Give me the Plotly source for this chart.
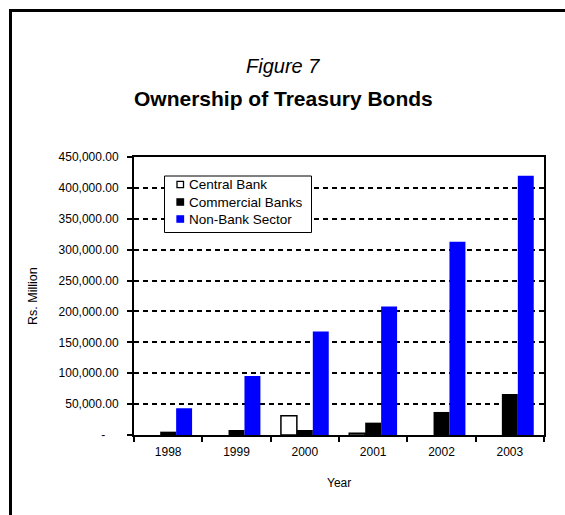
import plotly.graph_objects as go

# Holdings of Treasury Bonds by owner (Rs. Million)
years = ["1998", "1999", "2000", "2001", "2002", "2003"]
central_bank = [None, None, 31300, 2800, None, None]
commercial_banks = [5400, 8100, 8100, 20000, 37300, 66400]
non_bank_sector = [43300, 95600, 167400, 207900, 312700, 419600]

y_tick_vals = [0, 50000, 100000, 150000, 200000, 250000, 300000, 350000, 400000, 450000]
y_tick_text = ["-\u00a0\u00a0\u00a0\u00a0"] + [f"{v:,.2f}" for v in y_tick_vals[1:]]

series_names = ["Central Bank", "Commercial Banks", "Non-Bank Sector"]

W, H = 565, 515
ML, MR, MT, MB = 134, 21, 157, 80
PW, PH = W - ML - MR, H - MT - MB


def px_x(x):
    """Pixel column -> paper x."""
    return (x - ML) / PW


def px_y(y):
    """Pixel row -> paper y."""
    return (H - MB - y) / PH


FONT = "Liberation Sans, Arial, sans-serif"

fig = go.Figure()
fig.add_trace(go.Bar(x=years, y=central_bank, name=series_names[0],
                     marker=dict(color="white", line=dict(color="black", width=1.5))))
fig.add_trace(go.Bar(x=years, y=commercial_banks, name=series_names[1],
                     marker=dict(color="black", line=dict(width=0))))
fig.add_trace(go.Bar(x=years, y=non_bank_sector, name=series_names[2],
                     marker=dict(color="#0000FF", line=dict(width=0))))

shapes = []
annotations = []

# Outer frame (top and left edges)
shapes.append(dict(type="line", xref="paper", yref="paper",
                   x0=px_x(9), x1=px_x(570), y0=px_y(10.5), y1=px_y(10.5),
                   line=dict(color="black", width=3)))
shapes.append(dict(type="line", xref="paper", yref="paper",
                   x0=px_x(10.5), x1=px_x(10.5), y0=px_y(9), y1=px_y(520),
                   line=dict(color="black", width=3)))

# Legend box
lx0, ly0, lx1, ly1 = 164.5, 176, 311.5, 232.5
shapes.append(dict(type="rect", xref="paper", yref="paper",
                   x0=px_x(lx0), x1=px_x(lx1), y0=px_y(ly1), y1=px_y(ly0),
                   fillcolor="white", line=dict(color="black", width=1), layer="above"))
legend_rows = [184.5, 202, 219]
legend_fill = ["white", "black", "#0000FF"]
legend_line = ["black", "black", "#0000FF"]
for name, cy, fc, lc in zip(series_names, legend_rows, legend_fill, legend_line):
    shapes.append(dict(type="rect", xref="paper", yref="paper",
                       x0=px_x(177), x1=px_x(183.5), y0=px_y(cy + 3.2), y1=px_y(cy - 3.2),
                       fillcolor=fc, line=dict(color=lc, width=1.3), layer="above"))
    annotations.append(dict(text=name, xref="paper", yref="paper",
                            x=px_x(186.5), y=px_y(cy), xanchor="left", yanchor="middle",
                            showarrow=False, font=dict(family=FONT, size=13.5, color="black")))

# Titles
annotations.append(dict(text="<i>Figure 7</i>", xref="paper", yref="paper",
                        x=px_x(283), y=px_y(66), xanchor="center", yanchor="middle",
                        showarrow=False, font=dict(family=FONT, size=20, color="black")))
annotations.append(dict(text="<b>Ownership of Treasury Bonds</b>", xref="paper", yref="paper",
                        x=px_x(283), y=px_y(98), xanchor="center", yanchor="middle",
                        showarrow=False, font=dict(family=FONT, size=21, color="black")))

# Axis titles
annotations.append(dict(text="Rs. Million", xref="paper", yref="paper",
                        x=px_x(33), y=px_y(296), xanchor="center", yanchor="middle",
                        textangle=-90, showarrow=False,
                        font=dict(family=FONT, size=12.5, color="black")))
annotations.append(dict(text="Year", xref="paper", yref="paper",
                        x=px_x(339), y=px_y(483), xanchor="center", yanchor="middle",
                        showarrow=False, font=dict(family=FONT, size=12, color="black")))

fig.update_layout(
    width=W, height=H,
    margin=dict(l=ML, r=MR, t=MT, b=MB, pad=0),
    paper_bgcolor="white", plot_bgcolor="white",
    barmode="group", bargap=0.3, bargroupgap=0,
    showlegend=False,
    font=dict(family=FONT, size=12, color="black"),
    shapes=shapes, annotations=annotations,
)
fig.update_xaxes(
    type="category", showline=True, linecolor="black", linewidth=2, mirror=True,
    ticks="outside", ticklen=5, tickwidth=1.5, tickcolor="black", tickson="boundaries",
    showgrid=False, tickfont=dict(family=FONT, size=12, color="black"),
    ticklabelstandoff=5,
)
fig.update_yaxes(
    range=[0, 450000], tickvals=y_tick_vals, ticktext=y_tick_text,
    showline=True, linecolor="black", linewidth=2, mirror=True,
    ticks="outside", ticklen=5, tickwidth=1.5, tickcolor="black",
    showgrid=True, gridcolor="black", gridwidth=1.5, griddash="5px,4px",
    zeroline=False, tickfont=dict(family=FONT, size=12, color="black"),
    ticklabelstandoff=6,
)

fig.write_html("out.html")
